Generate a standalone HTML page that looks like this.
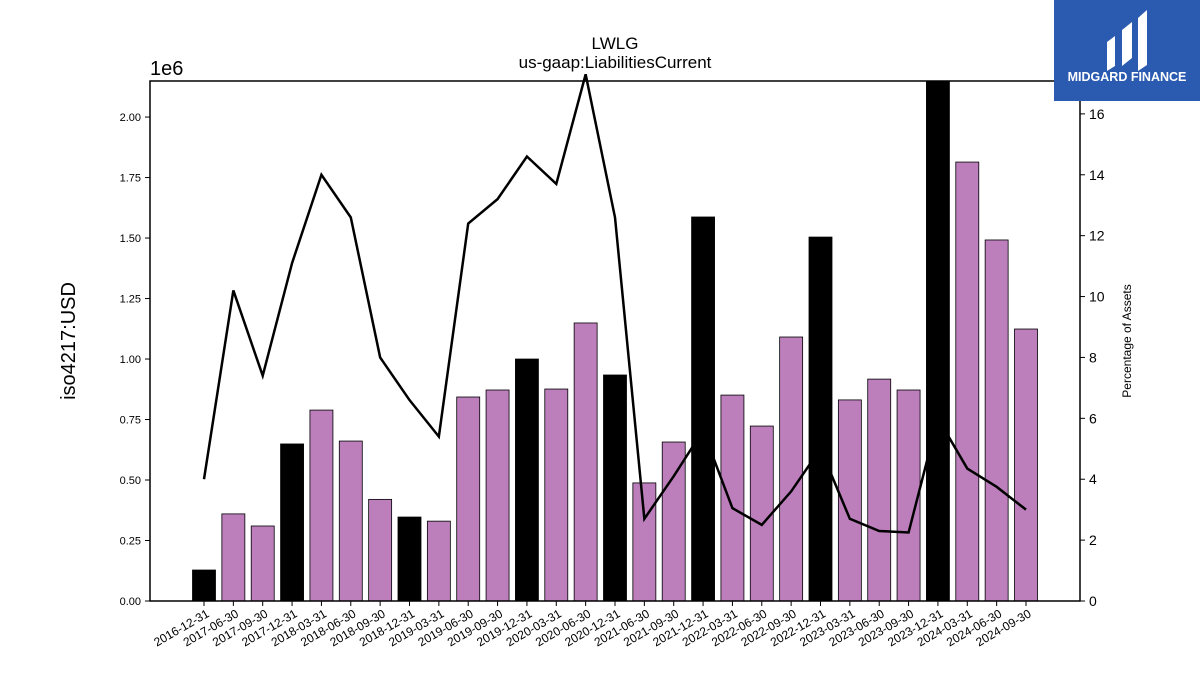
<!DOCTYPE html>
<html><head><meta charset="utf-8"><style>
body{margin:0;background:#fff;}
svg text{font-family:"Liberation Sans","DejaVu Sans",sans-serif;}
</style></head><body>
<svg id="chart" width="1200" height="675" xmlns="http://www.w3.org/2000/svg">
<rect width="1200" height="675" fill="#fff"/>
<text x="615" y="49" font-size="17" text-anchor="middle">LWLG</text>
<text x="615" y="68" font-size="17" text-anchor="middle">us-gaap:LiabilitiesCurrent</text>
<text x="150" y="75" font-size="20">1e6</text>
<text transform="translate(75,341) rotate(-90)" font-size="20" text-anchor="middle">iso4217:USD</text>
<text transform="translate(1131,341) rotate(-90)" font-size="12" text-anchor="middle">Percentage of Assets</text>
<g id="bars"></g><g id="line"></g><g id="axes"></g>
<rect x="150" y="81" width="930" height="520" fill="none" stroke="#000" stroke-width="1.5"/>
<g>
<rect x="1054" y="0" width="146" height="101" fill="#2b5bb0"/>
<path d="M1107 42 l8 -6 v30 l-8 5z M1122 30 l10 -8 v36 l-10 8z M1138 18 l9 -8 v55 l-9 6z" fill="#fff"/>
<text x="1127" y="81" font-size="12.5" font-weight="bold" fill="#fff" text-anchor="middle">MIDGARD FINANCE</text>
</g>
</svg>
<script>
const categories=["2016-12-31","2017-06-30","2017-09-30","2017-12-31","2018-03-31","2018-06-30","2018-09-30","2018-12-31","2019-03-31","2019-06-30","2019-09-30","2019-12-31","2020-03-31","2020-06-30","2020-12-31","2021-06-30","2021-09-30","2021-12-31","2022-03-31","2022-06-30","2022-09-30","2022-12-31","2023-03-31","2023-06-30","2023-09-30","2023-12-31","2024-03-31","2024-06-30","2024-09-30"];
const liabilities=[0.128,0.36,0.31,0.649,0.789,0.661,0.42,0.347,0.33,0.843,0.872,1.0,0.876,1.149,0.934,0.488,0.657,1.587,0.851,0.723,1.091,1.504,0.831,0.917,0.872,2.3,1.814,1.492,1.124];
const yearEnd=[1,0,0,1,0,0,0,1,0,0,0,1,0,0,1,0,0,1,0,0,0,1,0,0,0,1,0,0,0];
const pctAssets=[4.0,10.2,7.4,11.1,14.0,12.6,8.0,6.6,5.4,12.4,13.2,14.6,13.7,17.3,12.6,2.7,4.1,5.6,3.05,2.5,3.6,5.0,2.7,2.3,2.25,6.0,4.35,3.75,3.0];
const leftTicks=[0,0.25,0.5,0.75,1.0,1.25,1.5,1.75,2.0];
const rightTicks=[0,2,4,6,8,10,12,14,16];
const NS="http://www.w3.org/2000/svg";
const X0=150,X1=1080,Y0=601,Y1=81,YMAX=2.149,RMAX=17.08;
const x=i=>204+i*(1026-204)/(categories.length-1);
const yL=v=>Y0-(Math.min(v,YMAX)/YMAX)*(Y0-Y1);
const yR=v=>Y0-(v/RMAX)*(Y0-Y1);
function mk(t,a,p){const e=document.createElementNS(NS,t);for(const k in a)e.setAttribute(k,a[k]);p.appendChild(e);return e;}
const bars=document.getElementById('bars'),line=document.getElementById('line'),axes=document.getElementById('axes');
categories.forEach((c,i)=>{
 const b=mk('rect',{x:x(i)-11.5,y:yL(liabilities[i]),width:23,height:Y0-yL(liabilities[i]),fill:yearEnd[i]?'#000':'#bc7fbc',stroke:'#000','stroke-width':0.8},bars);
 
 
 mk('line',{x1:x(i),x2:x(i),y1:Y0,y2:Y0+5,stroke:'#000'},axes);
 const t=mk('text',{x:0,y:0,'font-size':12,'text-anchor':'end',transform:`translate(${x(i)+6},${Y0+15}) rotate(-30)`},axes);
 t.textContent=c;
 
 
});
const pl=mk('polyline',{points:pctAssets.map((v,i)=>x(i)+','+yR(v)).join(' '),fill:'none',stroke:'#000','stroke-width':2.5},line);


leftTicks.forEach(v=>{
 mk('line',{x1:X0-5,x2:X0,y1:yL(v),y2:yL(v),stroke:'#000'},axes);
 const t=mk('text',{x:X0-9,y:yL(v)+4,'font-size':11,'text-anchor':'end'},axes);
 t.textContent=v.toFixed(2);
 
 
});
rightTicks.forEach(v=>{
 mk('line',{x1:X1,x2:X1+5,y1:yR(v),y2:yR(v),stroke:'#000'},axes);
 const t=mk('text',{x:X1+9,y:yR(v)+5,'font-size':14},axes);
 t.textContent=v;
 
 
});
</script>
</body></html>
